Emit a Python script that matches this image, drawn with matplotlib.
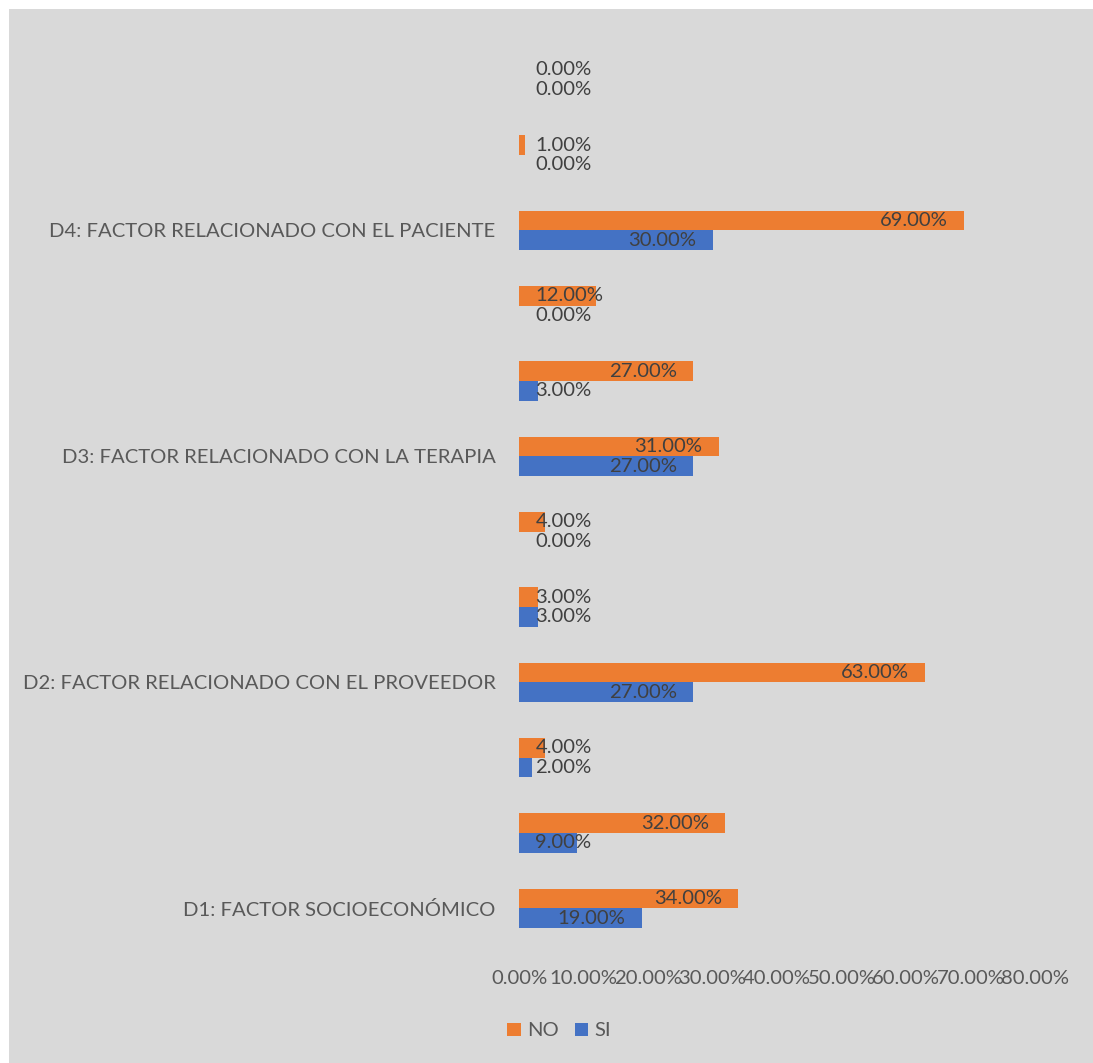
import matplotlib
matplotlib.use("Agg")
import matplotlib.pyplot as plt
from matplotlib.patches import Rectangle

plt.rcParams["font.family"] = ["Lato", "DejaVu Sans"]

# categorías de abajo hacia arriba (solo las dimensiones llevan nombre)
categorias = [
    "D1: FACTOR SOCIOECONÓMICO", "", "",
    "D2: FACTOR RELACIONADO CON EL PROVEEDOR", "", "",
    "D3: FACTOR RELACIONADO CON LA TERAPIA", "", "",
    "D4: FACTOR RELACIONADO CON EL PACIENTE", "", "",
]
no_vals = [34, 32, 4, 63, 3, 4, 31, 27, 12, 69, 1, 0]
si_vals = [19, 9, 2, 27, 3, 0, 27, 3, 0, 30, 0, 0]
ticks = [0, 10, 20, 30, 40, 50, 60, 70, 80]

GRIS = "#D9D9D9"
NARANJA = "#ED7D31"
AZUL = "#4472C4"
FS = 14.6

W, H = 1093, 1063
fig = plt.figure(figsize=(W / 100, H / 100), dpi=100)
fig.patch.set_facecolor("white")
fig.patches.append(Rectangle((9 / W, 0), 1 - 9 / W, 1 - 9 / H,
                             transform=fig.transFigure, facecolor=GRIS,
                             edgecolor="none", zorder=-10))

ax = fig.add_axes([519 / W, (H - 946) / H, (1035 - 519) / W, (946 - 42) / H])
ax.set_facecolor(GRIS)

y = list(range(len(categorias)))
h = 0.26
b_no = ax.barh([v + h / 2 for v in y], no_vals, height=h, color=NARANJA, label="NO")
b_si = ax.barh([v - h / 2 for v in y], si_vals, height=h, color=AZUL, label="SI")

ax.set_xlim(0, 80)
ax.set_ylim(-0.5, len(categorias) - 0.5)
ax.set_xticks(ticks)
ax.set_xticklabels([f"{t:.2f}%" for t in ticks], fontsize=FS, color="#595959")
ax.set_yticks(y)
ax.set_yticklabels(categorias, fontsize=FS, color="#595959")
ax.tick_params(axis="both", length=0)
ax.tick_params(axis="y", pad=17)
ax.tick_params(axis="x", pad=17.5)
for s in ax.spines.values():
    s.set_visible(False)

# etiquetas de datos: extremo interior, sin salirse por la izquierda
fig.canvas.draw()
r = fig.canvas.get_renderer()
px = ax.transData.transform((1, 0))[0] - ax.transData.transform((0, 0))[0]
pad = 16.5 / px
for vals, off in ((no_vals, h / 2), (si_vals, -h / 2)):
    for yi, v in zip(y, vals):
        t = ax.text(v - pad, yi + off, f"{v:.2f}%", ha="right", va="center",
                    fontsize=FS, color="#404040")
        w = t.get_window_extent(renderer=r).width / px
        if v - pad - w < pad:
            t.set_x(pad)
            t.set_ha("left")

fig.legend(handles=[b_no, b_si], labels=["NO", "SI"], loc="center",
           bbox_to_anchor=(559 / W, 1 - 1031 / H), ncol=2, frameon=False,
           fontsize=FS, handlelength=0.65, handleheight=0.65, handletextpad=0.3,
           columnspacing=0.8, labelcolor="#595959")

fig.savefig("out.png", dpi=100)
